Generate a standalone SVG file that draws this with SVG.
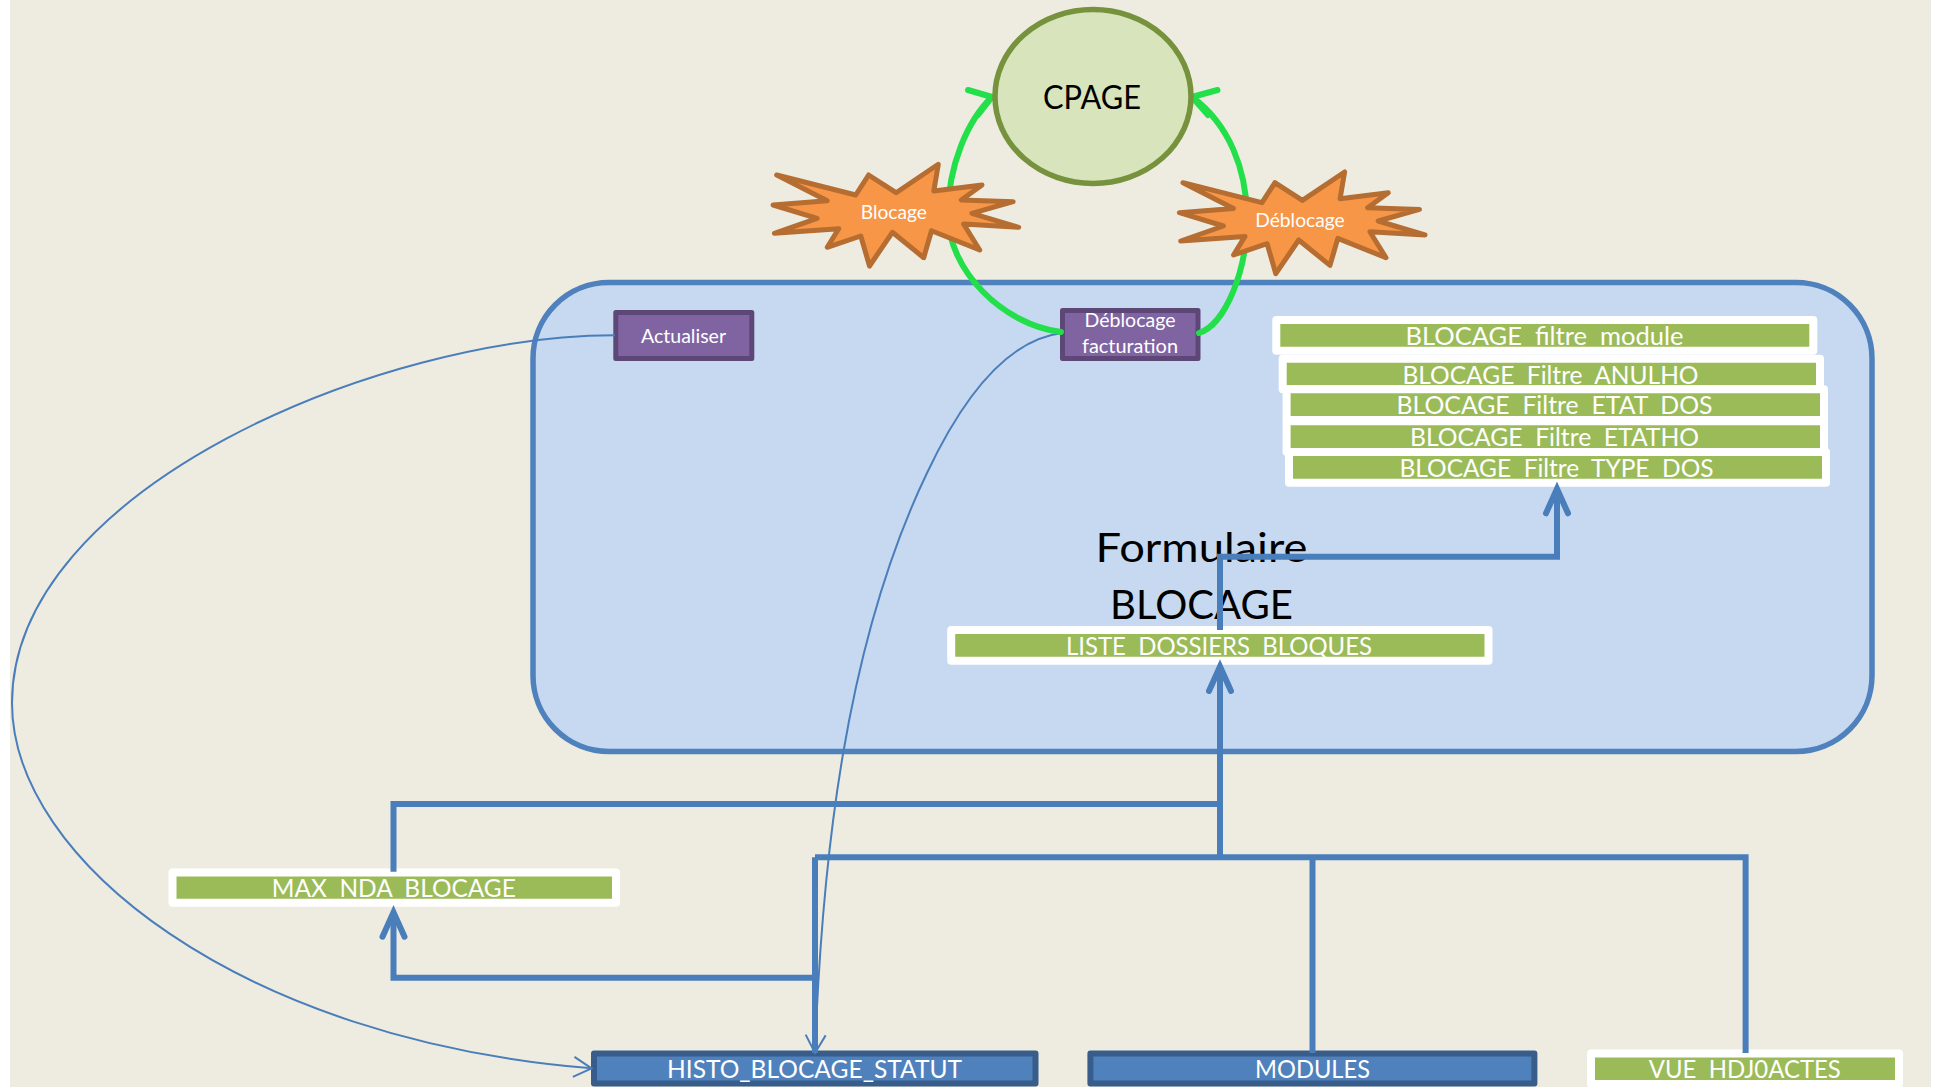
<svg xmlns="http://www.w3.org/2000/svg" width="1934" height="1087" viewBox="0 0 1934 1087">
<style>
text{font-family:Lato,"Liberation Sans",sans-serif;text-anchor:middle;fill:#fff;font-size:25px;white-space:pre}
.k{fill:#000}
.s{font-size:18.5px}
.g{fill:#9bbb59;stroke:#fff;stroke-width:8;stroke-linejoin:round}
.p{fill:#8064a2;stroke:#5c4776;stroke-width:5;stroke-linejoin:round}
.b{fill:#4f81bd;stroke:#385d8a;stroke-width:6;stroke-linejoin:round}
.star{fill:#f79646;stroke:#b66d31;stroke-width:5;stroke-linejoin:round}
.l{fill:none;stroke:#4a7ebb;stroke-width:6}
.t{fill:none;stroke:#4a7ebb;stroke-width:2}
.gr{fill:none;stroke:#23e04a;stroke-width:6;stroke-linecap:round;stroke-linejoin:round}
</style>
<defs>
<marker id="a" markerUnits="userSpaceOnUse" markerWidth="40" markerHeight="40" refX="30" refY="20" orient="auto" overflow="visible"><path d="M8,9 L32.5,20 L8,31" fill="none" stroke="#4a7ebb" stroke-width="6" stroke-linecap="round"/></marker>
<marker id="c" markerUnits="userSpaceOnUse" markerWidth="30" markerHeight="30" refX="20" refY="15" orient="auto" overflow="visible"><path d="M2,5 L20,15 L2,25" fill="none" stroke="#4a7ebb" stroke-width="2"/></marker>
<polygon id="burst" class="star" points="776.7,175 855.7,195 868.6,175 896.1,192.7 938.3,164.3 933.8,191 982,185 961.3,200 1013.2,201.7 971.9,213.3 1018.7,227.3 963.6,224 979.7,250 931.5,230.7 923.7,257.7 892.4,232.3 869.5,266 860.8,236 827.2,247.3 838.7,228.7 774.4,233.3 817.1,218.3 773.1,205 827.2,200.7"/>
</defs>
<rect width="1934" height="1087" fill="#fff"/>
<rect x="10" y="0" width="1921" height="1087" fill="#eeece1"/>
<g id="formulaire">
<rect x="533" y="282.5" width="1339" height="469" rx="76" ry="76" fill="#c6d9f1" stroke="#4f81bd" stroke-width="5.5"/>
<text class="k" x="1201.5" y="561.5" style="font-size:40px" textLength="212" lengthAdjust="spacingAndGlyphs">Formulaire</text>
<text class="k" x="1201.5" y="619" style="font-size:40px" textLength="183" lengthAdjust="spacingAndGlyphs">BLOCAGE</text>
</g>
<g id="actualiser"><rect class="p" x="615.8" y="312.5" width="136" height="46"/><text class="s" x="683.5" y="342.7" textLength="85" lengthAdjust="spacingAndGlyphs">Actualiser</text></g>
<g id="deblocage-facturation"><rect class="p" x="1062.5" y="310.5" width="135.5" height="48"/><text class="s" x="1130" y="327" textLength="91" lengthAdjust="spacingAndGlyphs">Déblocage</text><text class="s" x="1130" y="353.3" textLength="96" lengthAdjust="spacingAndGlyphs">facturation</text></g>
<g id="filtre-module"><rect class="g" x="1276.3" y="320" width="537" height="30.7"/><text x="1544.5" y="345.3" textLength="278" lengthAdjust="spacingAndGlyphs">BLOCAGE  filtre  module</text></g>
<g id="filtre-anulho"><rect class="g" x="1282.7" y="358.7" width="537.3" height="30.6"/><text x="1550.5" y="384.3" textLength="296" lengthAdjust="spacingAndGlyphs">BLOCAGE  Filtre  ANULHO</text></g>
<g id="filtre-etat-dos"><rect class="g" x="1286.6" y="389.3" width="537.4" height="30.7"/><text x="1554.5" y="414.3" textLength="316" lengthAdjust="spacingAndGlyphs">BLOCAGE  Filtre  ETAT  DOS</text></g>
<g id="filtre-etatho"><rect class="g" x="1286.6" y="421.3" width="537.4" height="30.7"/><text x="1554.5" y="446.2" textLength="289" lengthAdjust="spacingAndGlyphs">BLOCAGE  Filtre  ETATHO</text></g>
<g id="filtre-type-dos"><rect class="g" x="1289" y="452" width="537" height="30.7"/><text x="1556.5" y="477.2" textLength="314" lengthAdjust="spacingAndGlyphs">BLOCAGE  Filtre  TYPE  DOS</text></g>
<g id="liste-dossiers"><rect class="g" x="951.2" y="630" width="537.3" height="30.7"/><text x="1219" y="655.3" textLength="306" lengthAdjust="spacingAndGlyphs">LISTE  DOSSIERS  BLOQUES</text></g>
<g id="max-nda"><rect class="g" x="172.5" y="872.5" width="443.5" height="30.2"/><text x="393.8" y="896.7" textLength="244" lengthAdjust="spacingAndGlyphs">MAX  NDA  BLOCAGE</text></g>
<g id="histo"><rect class="b" x="594" y="1053.5" width="441.5" height="30"/><text x="814.5" y="1077.7" textLength="295" lengthAdjust="spacingAndGlyphs">HISTO_BLOCAGE_STATUT</text></g>
<g id="modules"><rect class="b" x="1090.4" y="1053.5" width="444" height="30"/><text x="1312.5" y="1077.7" textLength="115" lengthAdjust="spacingAndGlyphs">MODULES</text></g>
<g id="vue"><rect class="g" x="1591" y="1053.5" width="308" height="30.5"/><text x="1744.8" y="1077.7" textLength="192" lengthAdjust="spacingAndGlyphs">VUE  HDJ0ACTES</text></g>
<g id="connectors">
<path class="l" d="M815,857.3 H1745.6 V1053"/>
<path class="l" d="M1312.5,857.3 V1053"/>
<path class="l" d="M815,857.3 V1053"/>
<path class="l" d="M393.5,871.7 V804 H1220"/>
<path class="l" d="M815,977.7 H393.5 V914.7" marker-end="url(#a)"/>
<path class="l" d="M1220,857.3 V669" marker-end="url(#a)"/>
<path class="l" d="M1220,630 V556.7 H1557 V491.3" marker-end="url(#a)"/>
<path class="t" d="M615,335.3 C380,335 12,490 12,703 C12,860 240,1040 591.6,1068.3" marker-end="url(#c)"/>
<path class="t" d="M1062,333 C1005,340 961,401 927,473 C845,644 822,860 815,1053" marker-end="url(#c)"/>
<path class="gr" d="M1061,332 C1003,325 948,270 948,215 C948,165 968,120 992,97"/>
<path class="gr" d="M968,90 L992,97 L978,115"/>
<path class="gr" d="M1199,333 C1225,325 1248,270 1247,215 C1246,170 1230,125 1192,97"/>
<path class="gr" d="M1217.5,90 L1192,97 L1208,115"/>
</g>
<g id="blocage"><use href="#burst"/><text class="s" x="893.8" y="219" textLength="66" lengthAdjust="spacingAndGlyphs">Blocage</text></g>
<g id="deblocage"><use href="#burst" transform="translate(406.3 7.7)"/><text class="s" x="1300" y="227" textLength="89.5" lengthAdjust="spacingAndGlyphs">Déblocage</text></g>
<g id="cpage"><ellipse cx="1093" cy="96.5" rx="98" ry="87" fill="#d8e4bc" stroke="#76923c" stroke-width="5.5"/><text class="k" x="1092" y="109" style="font-size:32px" textLength="98" lengthAdjust="spacingAndGlyphs">CPAGE</text></g>
</svg>
